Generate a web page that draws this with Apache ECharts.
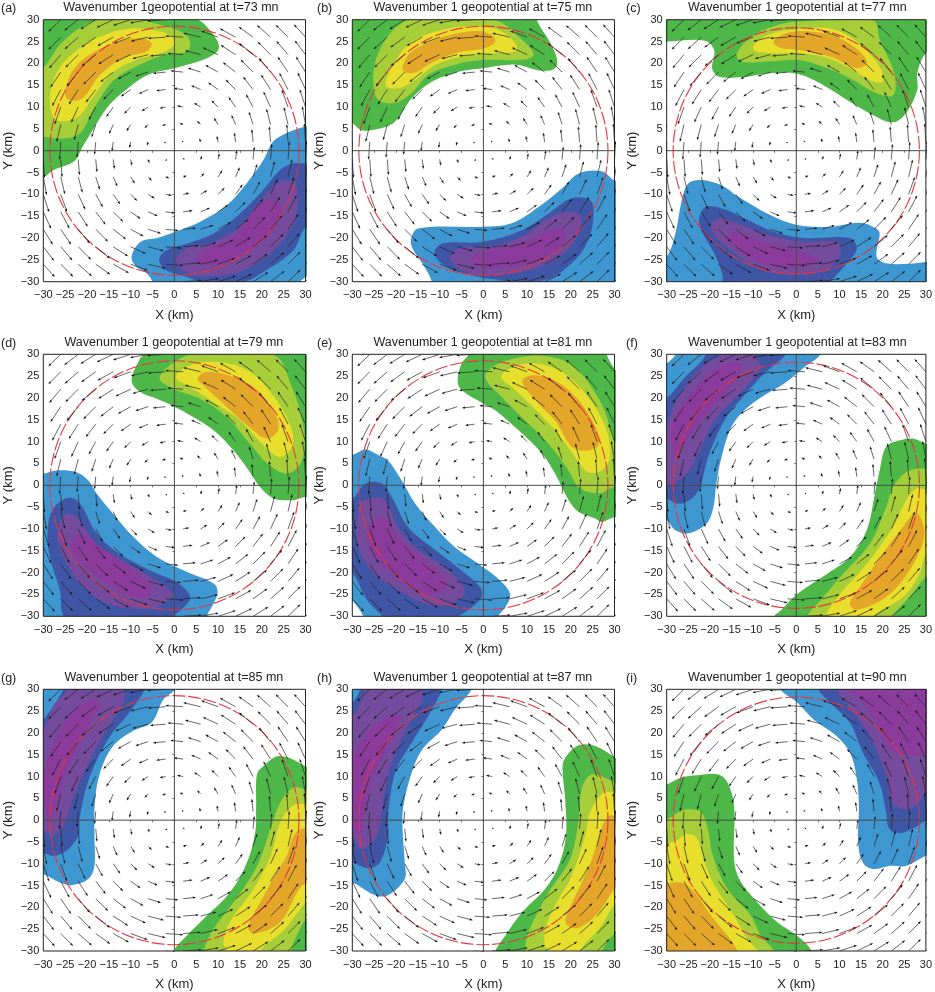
<!DOCTYPE html>
<html><head><meta charset="utf-8">
<style>html,body{margin:0;padding:0;background:#fff}#c{width:935px;height:992px}</style>
<script src="https://cdn.jsdelivr.net/npm/echarts@6/dist/echarts.min.js"></script>
</head><body><div id="c"></div>
<script>
const tickStep = 5;
const panelLetters = ['(a)','(b)','(c)','(d)','(e)','(f)','(g)','(h)','(i)'];
const panelTitles = ['Wavenumber 1geopotential at t=73 mn','Wavenumber 1 geopotential at t=75 mn','Wavenumber 1 geopotential at t=77 mn',
 'Wavenumber 1 geopotential at t=79 mn','Wavenumber 1 geopotential at t=81 mn','Wavenumber 1 geopotential at t=83 mn',
 'Wavenumber 1 geopotential at t=85 mn','Wavenumber 1 geopotential at t=87 mn','Wavenumber 1 geopotential at t=90 mn'];
const circleRadius = 28.5;

// wind vectors: tails on these grid points, components
const xGrid = [-30,-26,-22,-18,-14,-10,-6,-2,2,6,10,14,18,22,26,30];
const yGrid = [30,26,22,18,14,10,6,2,-2,-6,-10,-14,-18,-22,-26,-30];
const arrowLengthScale = 0.95;
const arrowU = [
[-2.8,-3.0,-3.4,-3.7,-4.0,-4.3,-4.4,-4.5,-4.5,-4.4,-4.3,-4.0,-3.7,-3.4,-3.0,-2.8],
[-2.8,-3.0,-3.3,-3.5,-3.8,-4.1,-4.2,-4.3,-4.3,-4.2,-4.1,-3.8,-3.5,-3.3,-3.0,-2.8],
[-2.6,-2.8,-3.1,-3.4,-3.6,-3.7,-3.8,-3.8,-3.8,-3.8,-3.7,-3.6,-3.4,-3.1,-2.8,-2.6],
[-2.3,-2.5,-2.8,-3.0,-3.1,-3.1,-3.1,-3.1,-3.1,-3.1,-3.1,-3.1,-3.0,-2.8,-2.5,-2.3],
[-1.9,-2.1,-2.3,-2.4,-2.4,-2.4,-2.3,-2.3,-2.3,-2.3,-2.4,-2.4,-2.4,-2.3,-2.1,-1.9],
[-1.4,-1.5,-1.7,-1.7,-1.7,-1.6,-1.6,-1.5,-1.5,-1.6,-1.6,-1.7,-1.7,-1.7,-1.5,-1.4],
[-0.8,-1.0,-1.0,-1.0,-1.0,-1.0,-0.9,-0.9,-0.9,-0.9,-1.0,-1.0,-1.0,-1.0,-1.0,-0.8],
[-0.3,-0.3,-0.3,-0.3,-0.3,-0.3,-0.3,-0.3,-0.3,-0.3,-0.3,-0.3,-0.3,-0.3,-0.3,-0.3],
[0.3,0.3,0.3,0.3,0.3,0.3,0.3,0.3,0.3,0.3,0.3,0.3,0.3,0.3,0.3,0.3],
[0.8,1.0,1.0,1.0,1.0,1.0,0.9,0.9,0.9,0.9,1.0,1.0,1.0,1.0,1.0,0.8],
[1.4,1.5,1.7,1.7,1.7,1.6,1.6,1.5,1.5,1.6,1.6,1.7,1.7,1.7,1.5,1.4],
[1.9,2.1,2.3,2.4,2.4,2.4,2.3,2.3,2.3,2.3,2.4,2.4,2.4,2.3,2.1,1.9],
[2.3,2.5,2.8,3.0,3.1,3.1,3.1,3.1,3.1,3.1,3.1,3.1,3.0,2.8,2.5,2.3],
[2.6,2.8,3.1,3.4,3.6,3.7,3.8,3.8,3.8,3.8,3.7,3.6,3.4,3.1,2.8,2.6],
[2.8,3.0,3.3,3.5,3.8,4.1,4.2,4.3,4.3,4.2,4.1,3.8,3.5,3.3,3.0,2.8],
[2.8,3.0,3.4,3.7,4.0,4.3,4.4,4.5,4.5,4.4,4.3,4.0,3.7,3.4,3.0,2.8]];
const arrowV = [
[-3.0,-2.9,-2.6,-2.3,-1.9,-1.4,-0.8,-0.3,0.3,0.8,1.4,1.9,2.3,2.6,2.9,3.0],
[-3.1,-3.0,-2.9,-2.5,-2.1,-1.5,-1.0,-0.3,0.3,1.0,1.5,2.1,2.5,2.9,3.0,3.1],
[-3.4,-3.3,-3.1,-2.8,-2.3,-1.7,-1.0,-0.3,0.3,1.0,1.7,2.3,2.8,3.1,3.3,3.4],
[-3.7,-3.7,-3.4,-3.0,-2.4,-1.7,-1.0,-0.3,0.3,1.0,1.7,2.4,3.0,3.4,3.7,3.7],
[-4.1,-4.0,-3.6,-3.1,-2.4,-1.7,-1.0,-0.3,0.3,1.0,1.7,2.4,3.1,3.6,4.0,4.1],
[-4.3,-4.2,-3.7,-3.1,-2.4,-1.6,-1.0,-0.3,0.3,1.0,1.6,2.4,3.1,3.7,4.2,4.3],
[-4.4,-4.2,-3.8,-3.1,-2.3,-1.6,-0.9,-0.3,0.3,0.9,1.6,2.3,3.1,3.8,4.2,4.4],
[-4.5,-4.3,-3.8,-3.1,-2.3,-1.5,-0.9,-0.3,0.3,0.9,1.5,2.3,3.1,3.8,4.3,4.5],
[-4.5,-4.3,-3.8,-3.1,-2.3,-1.5,-0.9,-0.3,0.3,0.9,1.5,2.3,3.1,3.8,4.3,4.5],
[-4.4,-4.2,-3.8,-3.1,-2.3,-1.6,-0.9,-0.3,0.3,0.9,1.6,2.3,3.1,3.8,4.2,4.4],
[-4.3,-4.2,-3.7,-3.1,-2.4,-1.6,-1.0,-0.3,0.3,1.0,1.6,2.4,3.1,3.7,4.2,4.3],
[-4.1,-4.0,-3.6,-3.1,-2.4,-1.7,-1.0,-0.3,0.3,1.0,1.7,2.4,3.1,3.6,4.0,4.1],
[-3.7,-3.7,-3.4,-3.0,-2.4,-1.7,-1.0,-0.3,0.3,1.0,1.7,2.4,3.0,3.4,3.7,3.7],
[-3.4,-3.3,-3.1,-2.8,-2.3,-1.7,-1.0,-0.3,0.3,1.0,1.7,2.3,2.8,3.1,3.3,3.4],
[-3.1,-3.0,-2.9,-2.5,-2.1,-1.5,-1.0,-0.3,0.3,1.0,1.5,2.1,2.5,2.9,3.0,3.1],
[-3.0,-2.9,-2.6,-2.3,-1.9,-1.4,-0.8,-0.3,0.3,0.8,1.4,1.9,2.3,2.6,2.9,3.0]];

// contour bands, outer to inner, as [x km, y km] outlines
const aPos1=[[-33,33],[-3,33],[5.5,30],[9.7,25.4],[10,23],[6.6,20.8],[0,18.9],[-6,17.4],[-12,13.2],[-15.5,9.7],[-18.5,5],[-21,0.9],[-23,-2.5],[-27.6,-4.4],[-30,-6],[-33,-6]];
const aPos2=[[-30,19],[-26,24.5],[-21,28.5],[-17,30],[-10,30.3],[-3,28.8],[2,27],[3.6,25],[2.8,22.7],[-2,22],[-8,19.7],[-14,16],[-18.6,9.3],[-21.6,4],[-25.5,2.8],[-30,3.2],[-33,3.5],[-33,17]];
const aPos3=[[-28.5,10.9],[-27.4,17],[-24,21.6],[-17.8,25.8],[-10,28],[-3.3,27.3],[-0.3,25.8],[0,24.2],[-3.3,22.3],[-8.7,20.8],[-14,18],[-18.6,12.4],[-22,7.8],[-27,7]];
const aPos4=[[-25,13],[-23.5,18],[-20,21.6],[-14,24.6],[-8,25.8],[-5.2,24.6],[-6.4,22.7],[-11.7,21.2],[-17,17.4],[-21,12],[-24,11.6]];
const aNeg1=[[-9.8,-24.3],[-7.8,-20.9],[-4,-20],[0,-18.6],[5.8,-16.3],[12,-12.5],[16.5,-7.5],[20.4,-2.1],[22.6,2.1],[26.5,4.4],[30,5.5],[33,5.5],[33,-27.5],[30,-29],[28.5,-30.5],[28,-33],[-4,-33],[-5,-30],[-6.4,-28],[-8.7,-26.6]];
const aNeg2=[[-3.5,-25],[-1.8,-22.8],[2.8,-21.3],[8.9,-19],[14.2,-15.1],[19.6,-9.8],[24.2,-4.4],[27.2,-2.9],[30,-2.9],[33,-3],[33,-16],[30,-17.4],[27.2,-22.8],[21,-27.4],[16,-30],[8,-30.5],[2.8,-28.9],[-1.8,-27.4]];
const aNeg3=[[0.5,-24.7],[2.8,-22.4],[8.9,-20.9],[15,-17.4],[20.4,-10.6],[24.2,-7.1],[27.6,-7.5],[28.2,-12.9],[26.5,-18.2],[21,-24.3],[13.5,-28.2],[5,-28.5],[1.3,-27]];
const aNeg4=[[5,-24.7],[7.4,-22.4],[13.5,-19.7],[18.8,-12.9],[22.6,-11.3],[24.5,-13.2],[22.6,-18.2],[17.3,-22.8],[12,-25.5],[6.6,-26.2]];

const bPos1=[[-33,33],[12.2,33],[12.2,30],[14.9,25.4],[16.8,21.2],[16.4,18.9],[13.4,18.3],[7.3,19.7],[0,18.9],[-5.7,18.1],[-11.8,15.8],[-16.4,12],[-20.3,6.6],[-24,5],[-27.9,4.7],[-30,6.3],[-33,7]];
const bPos2=[[-25.2,15.4],[-24.4,21.5],[-20.6,27.7],[-16.4,30],[2.7,29.8],[8.8,25.4],[11.5,22],[8.8,20.8],[0,20.8],[-6.5,19.7],[-12.6,17.4],[-16.4,13.2],[-20.3,10.9],[-24,11.6]];
const bPos3=[[-22.4,15],[-20.4,20],[-16.4,25],[-8,28],[-0.4,28.5],[4.2,27.3],[7.6,24.2],[7.2,22.7],[2.7,22.3],[-5,21.6],[-11,19.7],[-15.6,16.2],[-19.5,14.3]];
const bPos4=[[-18.5,19.2],[-16.4,22.7],[-9.5,26],[-1.9,27.4],[1.9,26.5],[2.7,25],[0.4,23.5],[-6.5,22.3],[-12.6,19.7],[-15.6,17.9],[-18,18]];
const bNeg1=[[-16.6,-20.5],[-14.9,-17.8],[-0.4,-17.4],[6.5,-16.6],[12.6,-12.9],[18,-8.6],[21.8,-5.2],[27.1,-4.7],[29.8,-6.7],[33,-8],[33,-33],[-12,-33],[-11.8,-30],[-14,-25.8],[-16,-22.8]];
const bNeg2=[[-11.2,-23.2],[-9.2,-21.2],[-0.4,-20.9],[8.8,-18.2],[14.9,-14.4],[20.2,-10.9],[24.4,-11.3],[25.2,-14.4],[24,-20.5],[20.2,-25.8],[14.1,-29.6],[4.2,-29.6],[-5,-28],[-9.6,-25.8]];
const bNeg3=[[-7.6,-24.3],[-5.7,-22.4],[1.1,-22],[8.8,-19.7],[15.6,-15.1],[20.2,-14],[22.5,-15.5],[21,-20.5],[16.4,-25],[8.8,-27.8],[-0.4,-28.5],[-5.7,-27]];
const bNeg4=[[-2.7,-24.7],[-0.4,-23.2],[7.2,-21.6],[13.4,-19],[17.2,-17.8],[18.7,-19],[17.2,-22.4],[11.8,-25.5],[4.2,-27],[-1.1,-26.6]];

const cPos1=[[-33,33],[-33,25],[-30,25],[-21.2,25.2],[-19,23],[-19.5,18.9],[-18,17],[-12.8,16.8],[-6.6,17.7],[0.2,17.6],[6.3,15],[12.4,11.2],[17.7,8.2],[22.4,6.5],[25.4,8.6],[28,13.9],[28,17.7],[30,22.3],[33,23],[33,33]];
const cPos2=[[-13.7,22.3],[-10.5,26],[-4.4,28.8],[1,29.6],[17.8,29.8],[19.3,25.4],[22.7,17.7],[22.4,12.7],[18.5,13.2],[12.4,16.6],[6.3,19.2],[0.2,20.8],[-6.6,20.4],[-12.7,20.4]];
const cPos3=[[-10,23.9],[-6.6,26.5],[0.2,27.8],[7.9,28],[14,25],[19.3,19.2],[20,15.8],[17,16.2],[12.4,18.9],[6.3,21.5],[0.2,22.3],[-5.9,22.3],[-9.3,22.7]];
const cPos4=[[-5.3,25],[-2,27],[3.3,27.3],[9.4,26.1],[14.7,22.7],[16.3,20],[14,18.9],[7.9,21.5],[1,23],[-3.6,23.5]];
const cNeg1=[[-33,-26],[-33,-33],[33,-33],[33,-25],[30,-25.5],[26.2,-25.9],[20.8,-25.8],[18.6,-24.3],[19.3,-19],[18.5,-17.8],[14.7,-16.5],[7.9,-17.4],[0.2,-17],[-5.9,-14.8],[-13.5,-10.5],[-17.3,-7.9],[-22,-6.7],[-25,-7.5],[-26.5,-11.3],[-28,-19],[-30,-24.3]];
const cNeg2=[[-22.5,-15.9],[-21,-12.9],[-17.3,-13.2],[-12,-15.5],[-5,-18.6],[1.8,-20],[12.4,-20],[14,-22.4],[11.7,-25.8],[7.9,-30],[6.3,-31.5],[-17.3,-31.5],[-17,-28.9],[-19,-23.5],[-21.6,-19]];
const cNeg3=[[-19.8,-17.4],[-18,-15.5],[-13.5,-16.7],[-6.6,-19.3],[1.8,-20.9],[9.4,-20.9],[10.3,-23.5],[7,-27.4],[-1.3,-28.5],[-9,-27],[-15,-22.8],[-18,-20.5]];
const cNeg4=[[-16.2,-20.1],[-14.3,-18.6],[-7.4,-20.9],[0.2,-22.8],[4,-24.3],[5.2,-25],[1.8,-26.6],[-5,-26.6],[-10.5,-24.7]];

const dPos1=[[-9.8,24],[-7.9,29],[-7,30],[-7,33],[33,33],[33,-3],[30,-2.7],[27.3,-3.4],[22.7,-3],[19.6,-0.4],[17,3.4],[13.5,8],[9,12.6],[4.4,15.6],[0,18],[-4,19.8],[-7.9,21.4]];
const dPos2=[[-3.4,24.4],[-1,27.5],[4.4,30],[22.7,29.8],[26.9,22.5],[29.5,13.4],[29.2,5.7],[25.7,2.7],[21,5.3],[17.3,9.5],[12,15.6],[5.9,19.8],[-0.2,22.1]];
const dPos3=[[0.3,24.8],[3.6,27.5],[10.5,28.2],[17.3,26],[23.4,19.5],[26.9,12.6],[26.9,8.8],[24.2,6.5],[20.4,9.2],[15,14.9],[8.9,19.1],[3.6,22.5]];
const dPos4=[[5.3,24.4],[7.4,26],[13.5,24.8],[18.9,21.8],[23.4,15.6],[23.7,12.6],[21.1,10.7],[16.6,13.8],[11.2,18.7],[6.6,22.9]];
const dNeg1=[[-33,3],[-30,2.7],[-27,3.4],[-22.4,3],[-19.7,1.1],[-17.8,-1.9],[-14.7,-5.7],[-9.4,-11.8],[-4,-16.4],[2.8,-19.8],[9,-22.5],[9.9,-24.4],[9,-27],[7.4,-30],[7,-33],[-33,-33]];
const dNeg2=[[-29,-10.3],[-27.7,-5.3],[-24.3,-2.9],[-21.6,-4.2],[-17.8,-11],[-13.2,-15.3],[-5.6,-19.5],[0.5,-22.2],[3.6,-25.6],[1.3,-28.7],[-1.8,-30.3],[-24.7,-30.3],[-26.2,-24],[-28.5,-16.4]];
const dNeg3=[[-26.8,-11.8],[-25.4,-6.9],[-22.4,-7.3],[-17.8,-13.4],[-9.4,-18.7],[-1.8,-23.3],[-0.6,-25.6],[-5.6,-28.3],[-15.5,-27],[-21.6,-22.5],[-25.4,-16.4]];
const dNeg4=[[-23.7,-13.4],[-21.6,-11],[-17,-14.1],[-9.4,-19.5],[-5.2,-23.3],[-6.3,-25.6],[-11.7,-24.8],[-18.5,-20.2],[-22.4,-16.4]];

const ePos1=[[-5.9,24],[-5,27.9],[-3.4,30],[-3.4,33],[28,33],[28.2,30],[30,26.7],[33,23],[33,-7.5],[30,-7.3],[27,-8.4],[25.6,-7.6],[21.8,-6.1],[19.5,-3.4],[16.4,2.7],[13.4,7.3],[8.8,11.9],[2.7,17.2],[0,18.7],[-5,21.8]];
const ePos2=[[0.4,24.8],[2.7,27.5],[8.8,29.4],[14.9,29.5],[21,27],[27,18.7],[30,10.3],[33,5],[33,-1],[30,-0.4],[26.3,-1.9],[21.8,-0.4],[19.5,3.4],[14.9,9.5],[8.8,15.6],[4.2,20.2]];
const ePos3=[[4,24.8],[6.5,27],[11.8,27.9],[17.9,26],[23.3,21],[27.9,13.4],[29,6.5],[27,3.4],[24,3],[21,6.5],[16.4,12.6],[11,18.3],[6.5,22.5]];
const ePos4=[[8.9,23.7],[11,25.2],[16.4,24],[21.8,19.5],[26,12.6],[26.3,9.2],[23.3,7.9],[20.2,8.8],[16.4,14.9],[12.6,18.7]];
const eNeg1=[[-33,7.5],[-30,7],[-27,8.2],[-24,6.9],[-21.8,5.7],[-18.7,1.1],[-15.6,-4.2],[-11,-9.6],[-6.5,-14.2],[-1.1,-18],[3.4,-21.4],[6.1,-24.9],[5,-28],[3.4,-30],[2.7,-33],[-27,-33],[-27.5,-30],[-30,-26.4],[-33,-24]];
const eNeg2=[[-33,-6],[-29.5,-2.7],[-27,0.4],[-23.3,0.4],[-21,-2.7],[-17.2,-9.6],[-11.8,-14.2],[-5,-19.5],[-0.8,-23.3],[-0.4,-25.6],[-2.7,-28],[-5.7,-30],[-8,-31.5],[-20,-31.5],[-26,-27],[-30,-20],[-33,-18]];
const eNeg3=[[-29,-9.6],[-28.2,-4.2],[-25.6,-2.9],[-22.5,-3.4],[-19.5,-9.6],[-15.6,-14.2],[-8,-19.5],[-4.2,-24],[-5.7,-26.3],[-11.8,-27.5],[-19.5,-24],[-25.6,-19.5],[-28.6,-14.2]];
const eNeg4=[[-26.7,-12],[-25.6,-8.4],[-22.5,-7.6],[-19.5,-11.9],[-14.1,-16.5],[-8.4,-21.8],[-8.8,-23.7],[-12.6,-25.2],[-18.7,-21.8],[-24,-17.2]];

const fPos1=[[33,9],[30,9.5],[27,10.7],[24,10.3],[20.8,8.8],[19.3,3.4],[18.2,-1.9],[16.3,-10.3],[12.4,-16.5],[7.1,-20.3],[0.2,-24.9],[-3.6,-28.7],[-5.1,-30],[-6,-33],[33,-33]];
const fPos2=[[33,3],[28.5,3.8],[25.4,3],[22.4,-0.4],[20.8,-5],[17,-13.4],[10.2,-21],[6.3,-25.6],[2.5,-30],[1.8,-33],[22.4,-33],[22.4,-30],[26.2,-25.6],[30,-21],[33,-19]];
const fPos3=[[33,-1],[30,-1],[27.7,-0.8],[25.4,-3.4],[22.4,-9.5],[16.3,-18],[10.2,-24.8],[6.7,-30],[6.3,-33],[17.8,-33],[17.8,-30],[24.7,-25.6],[28.5,-20.3],[30,-15.7],[33,-12]];
const fPos4=[[12.4,-27],[14.7,-23.3],[20,-15.7],[24.7,-9.5],[27.7,-6.3],[29.5,-9.5],[29.2,-13.4],[26.2,-19.5],[20.8,-25.6],[14,-28.5]];
const fNeg1=[[-33,26],[-30,27.9],[-28,30],[-28,33],[5.6,33],[5.6,30],[1.8,27],[-2.8,23.3],[-7.4,20.6],[-12,17.2],[-15,13.4],[-17.3,6.5],[-18.5,0.4],[-19.2,-5],[-20.8,-8.8],[-25,-11],[-28,-10.3],[-30,-8],[-33,-7]];
const fNeg2=[[-33,19],[-30,20],[-25.7,24.8],[-21,29.8],[-21,33],[-2,33],[-2.4,30],[-7.4,25.6],[-12,20.6],[-16.6,14.9],[-20.4,6.5],[-22.3,-0.4],[-24.2,-3],[-27.2,-4.2],[-30,-3],[-33,-2]];
const fNeg3=[[-33,13],[-30,14],[-28,19],[-22,27],[-17.3,30],[-17,33],[-9.7,33],[-9.7,30],[-8.2,27],[-13.5,20.6],[-18.9,14.9],[-22.7,7.3],[-25.3,2.7],[-30,-0.4],[-33,-1]];
const fNeg4=[[-28.8,9.5],[-28.8,14],[-22.7,23],[-17.3,27.5],[-13.5,28],[-12.7,26.4],[-16.6,21],[-22.7,14],[-25.7,9.5],[-27.6,6]];

const gPos1=[[33,11],[29.9,12.4],[26.5,14.2],[23.4,14.6],[20.4,12.4],[18.9,10.5],[18.7,3.3],[18.5,-2.8],[16.6,-9.7],[12.7,-16.6],[6.6,-22.7],[2.8,-26.5],[-0.2,-30],[-0.6,-33],[33,-33]];
const gPos2=[[33,8],[30,7.1],[27.3,7.5],[24.2,4],[22,-2],[18.9,-10.5],[13.5,-18.9],[8.9,-25],[6.6,-30],[6,-33],[25,-33],[27.3,-28],[30,-22.7],[33,-20]];
const gPos3=[[33,3],[28.4,3.7],[26.5,2.9],[24.2,-0.5],[22,-8.2],[18.1,-15.8],[12.7,-23.4],[11.2,-28],[12,-30],[12,-33],[20.4,-33],[19.6,-30],[25,-25.3],[30,-18.9],[33,-16]];
const gPos4=[[33,-2],[29.2,-2],[27.3,-3.6],[25.7,-8.2],[23.4,-12],[19.6,-18.9],[16.9,-24.2],[18,-26],[24.2,-23.4],[29.2,-15],[33,-14]];
const gNeg1=[[-33,33],[0.1,33],[0.1,30],[-2.5,27.7],[-5.2,22.4],[-9.4,20.5],[-14,17],[-17,10.9],[-18.2,4],[-18.3,-3.6],[-18.3,-10.5],[-19.7,-13.5],[-23.5,-14.9],[-26.2,-14.3],[-30,-12.4],[-33,-12]];
const gNeg2=[[-33,22],[-30,23.1],[-25.4,30],[-24.7,33],[-6.3,33],[-6.7,30],[-10.9,23.9],[-14.7,19.3],[-19.3,10.2],[-21.6,1],[-22,-3.6],[-24.7,-7],[-27.7,-8.2],[-30,-7.4],[-33,-7]];
const gNeg3=[[-33,20],[-30,20.8],[-27.7,26.2],[-24.3,30],[-24.3,33],[-11.3,33],[-11.3,30],[-11.7,27],[-15.5,20.8],[-20,12.4],[-23.5,4],[-25.4,-1.3],[-27.7,-3.6],[-30,-2.4],[-33,-2]];
const gNeg4=[[-29.8,9.4],[-28.5,15.5],[-25,22.4],[-20,27.3],[-17,27],[-19.3,22.4],[-22.4,16.3],[-25.4,9.4],[-27.3,2.5],[-28.9,0.2],[-29.8,4]];

const hPos1=[[33,12],[30,14.4],[25.6,17],[21.8,17.2],[19,14.7],[18.1,12.4],[18.7,4.8],[18.9,-3.6],[17.2,-10.5],[14.1,-15.8],[8.8,-21.2],[5,-26.5],[2.7,-30],[2.3,-33],[33,-33]];
const hPos2=[[33,6],[30,8.6],[24.8,10.5],[22.5,7.1],[21.8,0.2],[19.8,-9],[14.9,-16.6],[10.3,-25.7],[9.5,-30],[9.5,-33],[27,-33],[27.1,-30],[30,-26],[33,-24]];
const hPos3=[[33,6],[30,6.3],[27.5,6.3],[24.4,1.8],[23.3,-3.6],[20.2,-12.8],[17.2,-18.1],[14.1,-25],[14.1,-28.8],[14.9,-30],[14.9,-33],[22.1,-33],[22.1,-30],[27,-24.2],[30,-19.3],[33,-17]];
const hPos4=[[33,1],[30,1],[28.6,1],[27,-2],[24.8,-9],[21.8,-15.8],[19,-22],[19,-23.9],[21.8,-24.7],[26.3,-21.2],[30,-15.8],[33,-13]];
const hNeg1=[[-33,33],[-2.7,33],[-2.7,30],[-6.5,25.4],[-9.5,20.8],[-14,16.2],[-16.4,10.9],[-18.3,3.3],[-18.5,-2],[-18,-9.7],[-18,-13.5],[-21.8,-17.2],[-24.8,-17.2],[-30,-14.3],[-33,-14]];
const hNeg2=[[-33,26],[-30,27],[-28.2,30],[-28.2,33],[-9.5,33],[-9.5,30],[-12.6,23.9],[-16.4,17.8],[-20.2,10.9],[-21.8,1],[-21.8,-3.6],[-23.7,-9.7],[-26.3,-11],[-30,-9.7],[-33,-9]];
const hNeg3=[[-33,25],[-30,24],[-27,30],[-27,33],[-14.1,33],[-14.1,30],[-14,27.7],[-17.2,21.6],[-21,13.2],[-22.9,4.8],[-24,-2.8],[-26.3,-5.9],[-28.2,-6.6],[-30,-3.6],[-33,-3]];
const hNeg4=[[-33,12],[-30,14],[-28.2,17.8],[-24,22.4],[-20.2,24.3],[-19,23.2],[-21,18.6],[-24.8,10.9],[-27,3.3],[-28.2,-3.6],[-30,-2],[-33,-2]];

const iPos1=[[-33,7.5],[-30,8.2],[-26.6,9.8],[-22.8,10.3],[-18.2,10.5],[-15.9,8.6],[-14.4,3.3],[-14.4,-8.9],[-13.2,-13.5],[-9,-18.9],[-4.4,-23.4],[0.2,-26.5],[3.6,-30],[4,-33],[-33,-33]];
const iPos2=[[-33,0],[-30,0.2],[-27.3,1.8],[-25,2.5],[-22,1.8],[-20.5,-2],[-19.3,-8.2],[-15.9,-15.8],[-10.5,-21.9],[-8.2,-26.5],[-5.2,-30],[-5,-33],[-33,-33]];
const iPos3=[[-33,-5.5],[-30,-5.5],[-27.3,-4.4],[-25.4,-3.2],[-23.1,-4],[-21.2,-9.7],[-18.9,-15],[-14.4,-21.9],[-11.3,-27.3],[-9,-30],[-9,-33],[-33,-33]];
const iPos4=[[-33,-14.5],[-30,-14.4],[-26.2,-14.4],[-23.5,-16.6],[-19.7,-21.9],[-15.9,-26.5],[-13.6,-30],[-13.6,-33],[-33,-33]];
const iNeg1=[[-3.7,33],[-3.7,30],[0.2,27],[4,23.1],[9.3,19.3],[12.4,15.5],[13.9,10.2],[14.5,3.3],[14.3,-5.1],[15.4,-9.7],[17.7,-11.2],[21.5,-10.5],[25.3,-10.5],[29.9,-8.2],[33,-7],[33,33]];
const iNeg2=[[5.1,33],[5.1,30],[8.2,26.6],[12.4,22.4],[15.4,15.5],[19.2,8.6],[20.8,1.8],[21.5,-2],[23.8,-3],[26.9,-2],[29.9,-0.2],[33,0],[33,33]];
const iNeg3=[[9.3,33],[9.3,30],[13.1,24.7],[17,19.3],[20.8,10.2],[22.3,4],[25.3,2.5],[28.4,4],[29.9,6.3],[33,8],[33,33]];
const iNeg4=[[12.4,33],[12.4,30],[15.4,27],[19.2,20.9],[21.5,16.3],[26.1,14.9],[29.9,14.7],[33,14],[33,33]];

const panelBands = [
 [aPos1,aPos2,aPos3,aPos4,aNeg1,aNeg2,aNeg3,aNeg4],
 [bPos1,bPos2,bPos3,bPos4,bNeg1,bNeg2,bNeg3,bNeg4],
 [cPos1,cPos2,cPos3,cPos4,cNeg1,cNeg2,cNeg3,cNeg4],
 [dPos1,dPos2,dPos3,dPos4,dNeg1,dNeg2,dNeg3,dNeg4],
 [ePos1,ePos2,ePos3,ePos4,eNeg1,eNeg2,eNeg3,eNeg4],
 [fPos1,fPos2,fPos3,fPos4,fNeg1,fNeg2,fNeg3,fNeg4],
 [gPos1,gPos2,gPos3,gPos4,gNeg1,gNeg2,gNeg3,gNeg4],
 [hPos1,hPos2,hPos3,hPos4,hNeg1,hNeg2,hNeg3,hNeg4],
 [iPos1,iPos2,iPos3,iPos4,iNeg1,iNeg2,iNeg3,iNeg4]];
const bandColors = ['#4db848','#a6ce39','#e8df2c','#e4a629','#3f97d2','#3f55a5','#744b9d','#8b3b9b'];

// layout
const colLeft = [43.3,352.3,666.7], rowTop = [19.7,354.3,689.3];
const plotW = 262.2, plotH = 262;
const yNameGap = [28,24,28];
const font = '"Liberation Sans",Arial,sans-serif';

const arrowData = [];
yGrid.forEach((y,j)=>xGrid.forEach((x,i)=>arrowData.push([x,y,arrowU[j][i],arrowV[j][i]])));

function renderBand(bands){
  return function(params,api){
    const pts = bands[params.dataIndex].map(p=>api.coord(p));
    return {type:'polygon',shape:{points:pts,smooth:0.35},style:{fill:bandColors[params.dataIndex]}};
  };
}
function renderArrow(params,api){
  const a = api.coord([api.value(0),api.value(1)]);
  const b = api.coord([api.value(0)+api.value(2)*arrowLengthScale,api.value(1)+api.value(3)*arrowLengthScale]);
  const dx=b[0]-a[0],dy=b[1]-a[1],L=Math.hypot(dx,dy)||1,ux=dx/L,uy=dy/L;
  const h=Math.min(3.2,L*0.8),w=1.15;
  const base=[b[0]-ux*h,b[1]-uy*h];
  return {type:'group',children:[
    {type:'line',shape:{x1:a[0],y1:a[1],x2:base[0],y2:base[1]},style:{stroke:'#262626',lineWidth:0.7}},
    {type:'polygon',shape:{points:[b,[base[0]-uy*w,base[1]+ux*w],[base[0]+uy*w,base[1]-ux*w]]},style:{fill:'#141414'}}
  ]};
}
function renderCircle(params,api){
  const c=api.coord([0,0]),r=api.size([circleRadius,0])[0];
  return {type:'circle',shape:{cx:c[0],cy:c[1],r:r},style:{fill:'none',stroke:'#e8353f',lineWidth:1.1,lineDash:[13,2.8]}};
}
function renderFrame(params,api){
  const p0=api.coord([-30,30]),p1=api.coord([30,-30]),c=api.coord([0,0]);
  return {type:'group',children:[
    {type:'line',shape:{x1:c[0],y1:p0[1],x2:c[0],y2:p1[1]},style:{stroke:'#4a4a4a',lineWidth:1}},
    {type:'line',shape:{x1:p0[0],y1:c[1],x2:p1[0],y2:c[1]},style:{stroke:'#4a4a4a',lineWidth:1}},
    {type:'rect',shape:{x:p0[0],y:p0[1],width:p1[0]-p0[0],height:p1[1]-p0[1]},style:{fill:'none',stroke:'#222',lineWidth:1}}
  ]};
}

const grids=[],xAxes=[],yAxes=[],series=[],titles=[];
const fmt=v=>String(v).replace('-','\u2212');
panelBands.forEach((bands,k)=>{
  const c=k%3,r=Math.floor(k/3),L=colLeft[c],T=rowTop[r];
  grids.push({left:L,top:T,width:plotW,height:plotH,containLabel:false});
  const axisCommon={type:'value',min:-30,max:30,interval:tickStep,gridIndex:k,splitLine:{show:false},
    axisLine:{show:false},axisTick:{show:true,length:2,lineStyle:{color:'#333',width:0.7}},
    axisLabel:{color:'#222',fontFamily:font,fontSize:11,margin:4,formatter:fmt,hideOverlap:false,showMinLabel:true,showMaxLabel:true},
    nameLocation:'middle',nameTextStyle:{color:'#222',fontFamily:font,fontSize:13}};
  xAxes.push(Object.assign({},axisCommon,{name:'X (km)',nameGap:27,axisLabel:Object.assign({},axisCommon.axisLabel,{margin:8})}));
  yAxes.push(Object.assign({},axisCommon,{name:'Y (km)',nameGap:yNameGap[c]}));
  series.push({type:'custom',xAxisIndex:k,yAxisIndex:k,clip:true,z:2,silent:true,renderItem:renderBand(bands),
    data:bands.map(b=>[b[0][0],b[0][1]]),encode:{x:0,y:1}});
  series.push({type:'custom',xAxisIndex:k,yAxisIndex:k,clip:true,z:4,silent:true,renderItem:renderCircle,data:[[0,0]],encode:{x:0,y:1}});
  series.push({type:'custom',xAxisIndex:k,yAxisIndex:k,clip:true,z:5,silent:true,renderItem:renderArrow,data:arrowData,encode:{x:0,y:1}});
  series.push({type:'custom',xAxisIndex:k,yAxisIndex:k,clip:false,z:6,silent:true,renderItem:renderFrame,data:[[0,0]],encode:{x:0,y:1}});
  titles.push({text:panelTitles[k],left:L+plotW/2-(k===0?3:0)-0.5,top:T-17,padding:[5,0,5,0],textAlign:'center',textVerticalAlign:'middle',
    textStyle:{color:'#222',fontFamily:font,fontSize:12.5,fontWeight:'normal'}});
  titles.push({text:panelLetters[k],left:[1,317,626][c],top:T-16,padding:[5,0,5,0],textVerticalAlign:'middle',
    textStyle:{color:'#222',fontFamily:font,fontSize:12.5,fontWeight:'normal'}});
});

const chart=echarts.init(document.getElementById('c'),null,{renderer:'canvas'});
chart.setOption({animation:false,backgroundColor:'#fff',title:titles,grid:grids,xAxis:xAxes,yAxis:yAxes,series:series,tooltip:{show:false}});
</script></body></html>
